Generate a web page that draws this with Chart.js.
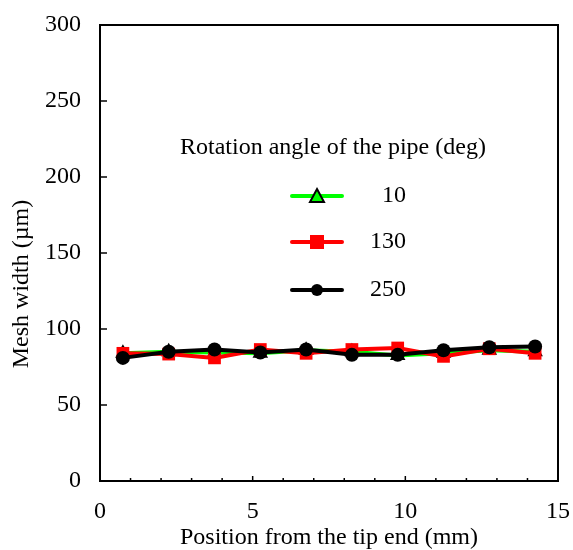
<!DOCTYPE html>
<html>
<head>
<meta charset="utf-8">
<script src="https://cdn.jsdelivr.net/npm/chart.js@4.4.0/dist/chart.umd.min.js"></script>
<style>
  html, body { margin: 0; padding: 0; background: #fff; }
  #wrap { width: 573px; height: 550px; position: relative; }
</style>
</head>
<body>
<div id="wrap"><canvas id="myChart"></canvas></div>
<script>
// position from the tip end (mm)
const positions = [0.75, 2.25, 3.75, 5.25, 6.75, 8.25, 9.75, 11.25, 12.75, 14.25];
// mesh width (um) per rotation angle
const mesh10 = [84, 85, 84.5, 84, 86, 85, 82.5, 84, 86, 85];
const mesh130 = [84, 83.5, 81, 86.5, 84, 86.5, 87.5, 82, 87, 84];
const mesh250 = [81, 85, 86.5, 84.5, 86.5, 83, 83, 86, 88, 88.5];
const angleLabels = ["10", "130", "250"];
const xTicks = [0, 5, 10, 15];
const yTicks = [0, 50, 100, 150, 200, 250, 300];

const FONT = "'Liberation Serif', 'Times New Roman', serif";
const FS = 24;

const toPts = ys => positions.map((x, i) => ({x: x, y: ys[i]}));

// draws the boxed frame, inward ticks, the y title and the legend box
const decor = {
  id: "decor",
  afterDatasetsDraw(chart) {
    const ctx = chart.ctx;
    const a = chart.chartArea;
    const xs = chart.scales.x;
    const ys = chart.scales.y;
    ctx.save();
    ctx.strokeStyle = "#000";
    ctx.lineWidth = 2;
    ctx.strokeRect(a.left, a.top, a.right - a.left, a.bottom - a.top);

    // minor/major ticks on x, inside
    ctx.lineWidth = 1.5;
    for (let v = 1; v < 15; v++) {
      const px = xs.getPixelForValue(v);
      const len = v % 5 === 0 ? 5 : 3;
      ctx.beginPath();
      ctx.moveTo(px, a.bottom);
      ctx.lineTo(px, a.bottom - len);
      ctx.stroke();
    }
    for (const v of yTicks) {
      if (v === 0 || v === 300) continue;
      const py = ys.getPixelForValue(v);
      ctx.beginPath();
      ctx.moveTo(a.left, py);
      ctx.lineTo(a.left + 7, py);
      ctx.stroke();
    }

    // y title
    ctx.fillStyle = "#000";
    ctx.font = FS + "px " + FONT;
    ctx.textAlign = "center";
    ctx.textBaseline = "middle";
    ctx.translate(22, 284);
    ctx.rotate(-Math.PI / 2);
    ctx.fillText("Mesh width (\u00b5m)", 0, 0);
    ctx.restore();

    // legend
    ctx.save();
    ctx.font = FS + "px " + FONT;
    ctx.fillStyle = "#000";
    ctx.textBaseline = "middle";
    ctx.textAlign = "left";
    ctx.fillText("Rotation angle of the pipe (deg)", 180, 148);
    const rows = [196, 242, 290];
    chart.data.datasets.forEach((ds, i) => {
      const y = rows[i];
      ctx.strokeStyle = ds.borderColor;
      ctx.lineWidth = 4;
      ctx.lineCap = "round";
      ctx.beginPath();
      ctx.moveTo(292, y);
      ctx.lineTo(342, y);
      ctx.stroke();
      ctx.fillStyle = ds.pointBackgroundColor;
      ctx.strokeStyle = ds.pointBorderColor;
      ctx.lineWidth = 2;
      if (ds.pointStyle === "triangle") {
        ctx.beginPath();
        ctx.moveTo(317, y - 7);
        ctx.lineTo(324, y + 6);
        ctx.lineTo(310, y + 6);
        ctx.closePath();
        ctx.fill();
        ctx.stroke();
      } else if (ds.pointStyle === "rect") {
        ctx.fillRect(310, y - 7, 14, 14);
      } else {
        ctx.beginPath();
        ctx.arc(317, y, 6, 0, Math.PI * 2);
        ctx.fill();
      }
      ctx.fillStyle = "#000";
      ctx.textAlign = "right";
      ctx.fillText(ds.label, 406, y);
    });
    ctx.restore();
  }
};

const chart = new Chart("myChart", {
  type: "line",
  data: {
    datasets: [
      {
        label: angleLabels[0],
        data: toPts(mesh10),
        borderColor: "#00ff00",
        backgroundColor: "#00ff00",
        pointBackgroundColor: "#00ff00",
        pointBorderColor: "#000",
        pointBorderWidth: 2,
        pointStyle: "triangle",
        pointRadius: 7,
        borderWidth: 4,
        order: 3
      },
      {
        label: angleLabels[1],
        data: toPts(mesh130),
        borderColor: "#ff0000",
        backgroundColor: "#ff0000",
        pointBackgroundColor: "#ff0000",
        pointBorderColor: "#ff0000",
        pointBorderWidth: 0,
        pointStyle: "rect",
        pointRadius: 9,
        borderWidth: 4,
        order: 2
      },
      {
        label: angleLabels[2],
        data: toPts(mesh250),
        borderColor: "#000000",
        backgroundColor: "#000000",
        pointBackgroundColor: "#000000",
        pointBorderColor: "#000000",
        pointBorderWidth: 0,
        pointStyle: "circle",
        pointRadius: 7,
        borderWidth: 4,
        order: 1
      }
    ]
  },
  options: {
    responsive: true,
    maintainAspectRatio: false,
    animation: false,
    layout: {padding: {top: 25, right: 15, left: 0, bottom: 0}},
    plugins: {legend: {display: false}, tooltip: {enabled: false}},
    scales: {
      x: {
        type: "linear",
        min: 0,
        max: 15,
        afterBuildTicks: s => { s.ticks = xTicks.map(v => ({value: v})); },
        afterFit: s => { s.height = 69; s.paddingLeft = 0; s.paddingRight = 0; },
        grid: {display: false, drawTicks: false},
        border: {display: false},
        ticks: {color: "#000", font: {family: FONT, size: FS}, padding: 16, maxRotation: 0},
        title: {display: true, text: "Position from the tip end (mm)", color: "#000",
                font: {family: FONT, size: FS, lineHeight: 1.0}, padding: {top: 0, bottom: 0}}
      },
      y: {
        min: 0,
        max: 300,
        afterBuildTicks: s => { s.ticks = yTicks.map(v => ({value: v})); },
        afterFit: s => { s.width = 100; s.paddingTop = 0; s.paddingBottom = 0; },
        grid: {display: false, drawTicks: false},
        border: {display: false},
        ticks: {color: "#000", font: {family: FONT, size: FS}, padding: 19}
      }
    }
  },
  plugins: [decor]
});
</script>
</body>
</html>
